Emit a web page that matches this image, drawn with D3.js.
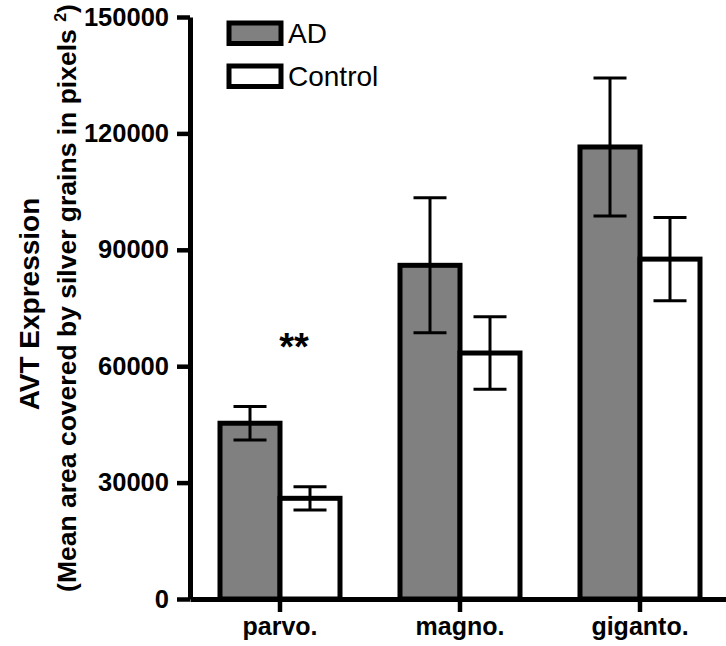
<!DOCTYPE html>
<html>
<head>
<meta charset="utf-8">
<script src="https://cdn.jsdelivr.net/npm/d3@7"></script>
<style>
  body { margin: 0; background: #fff; }
  svg { display: block; font-family: "Liberation Sans", Arial, sans-serif; }
</style>
</head>
<body>
<div id="chart"></div>
<script>
// data
const regions = ["parvo.", "magno.", "giganto."];
const groups = ["AD", "Control"];
const adMean = [45300, 86000, 116500];
const adErr = [4300, 17400, 17800];
const ctrlMean = [25950, 63400, 87600];
const ctrlErr = [3000, 9350, 10750];
const yTicks = [0, 30000, 60000, 90000, 120000, 150000];
const sigMarks = [{ region: "parvo.", text: "**" }];

const W = 726, H = 646;
const fills = { AD: "#808080", Control: "#ffffff" };

const svg = d3.select("#chart")
  .append("svg")
  .attr("width", W)
  .attr("height", H);

svg.append("rect").attr("width", W).attr("height", H).attr("fill", "#fff");

// scales
const x = d3.scaleBand()
  .domain(regions)
  .range([190, 730])
  .padding(0);

const x1 = d3.scaleBand()
  .domain(groups)
  .range([0, x.bandwidth()])
  .paddingInner(0)
  .paddingOuter(0.5);

const y = d3.scaleLinear()
  .domain([0, 150000])
  .range([599, 17]);

const rows = [];
regions.forEach((r, i) => {
  rows.push({ region: r, group: "AD", mean: adMean[i], err: adErr[i] });
  rows.push({ region: r, group: "Control", mean: ctrlMean[i], err: ctrlErr[i] });
});

// bars
svg.append("g")
  .selectAll("rect")
  .data(rows)
  .enter()
  .append("rect")
  .attr("x", d => x(d.region) + x1(d.group))
  .attr("y", d => y(d.mean))
  .attr("width", x1.bandwidth())
  .attr("height", d => y(0) - y(d.mean))
  .attr("fill", d => fills[d.group])
  .attr("stroke", "#000")
  .attr("stroke-width", 5);

// error bars
const capW = 33;
const eb = svg.append("g")
  .attr("stroke", "#000")
  .attr("stroke-width", 3)
  .selectAll("g")
  .data(rows)
  .enter()
  .append("g")
  .attr("transform", d => `translate(${x(d.region) + x1(d.group) + x1.bandwidth() / 2},0)`);

eb.append("line")
  .attr("y1", d => y(d.mean - d.err))
  .attr("y2", d => y(d.mean + d.err));
eb.append("line")
  .attr("x1", -capW / 2).attr("x2", capW / 2)
  .attr("y1", d => y(d.mean + d.err)).attr("y2", d => y(d.mean + d.err));
eb.append("line")
  .attr("x1", -capW / 2).attr("x2", capW / 2)
  .attr("y1", d => y(d.mean - d.err)).attr("y2", d => y(d.mean - d.err));

// significance stars
svg.selectAll("text.sig")
  .data(sigMarks)
  .enter()
  .append("text")
  .attr("class", "sig")
  .attr("x", d => x(d.region) + x.bandwidth() / 2 + 14)
  .attr("y", 360)
  .attr("text-anchor", "middle")
  .style("font-size", "38px")
  .style("font-weight", "bold")
  .text(d => d.text);

// x axis
const xAxis = svg.append("g")
  .attr("transform", `translate(0,${y(0)})`)
  .call(d3.axisBottom(x).tickSize(13).tickSizeOuter(0));
xAxis.select(".domain").attr("stroke-width", 5);
xAxis.selectAll(".tick line").attr("stroke-width", 4.5);
xAxis.selectAll("text")
  .attr("y", 36)
  .attr("dy", null)
  .attr("fill", "#000")
  .style("font-size", "25px")
  .style("font-weight", "bold")
  .style("font-family", "'Liberation Sans', Arial, sans-serif");

// y axis
const yAxis = svg.append("g")
  .attr("transform", "translate(190,0)")
  .call(d3.axisLeft(y).tickValues(yTicks).tickSize(13).tickSizeOuter(0).tickPadding(8).tickFormat(d3.format("d")));
yAxis.select(".domain").attr("stroke-width", 5);
yAxis.selectAll(".tick line").attr("stroke-width", 4.5);
yAxis.selectAll("text")
  .attr("fill", "#000")
  .style("font-size", "25.5px")
  .style("font-weight", "bold")
  .style("font-family", "'Liberation Sans', Arial, sans-serif");

// y titles
svg.append("text")
  .attr("transform", "translate(39,304) rotate(-90)")
  .attr("text-anchor", "middle")
  .style("font-size", "28px")
  .style("font-weight", "bold")
  .text("AVT Expression");

const sub = svg.append("text")
  .attr("transform", "translate(76,298) rotate(-90)")
  .attr("text-anchor", "middle")
  .style("font-size", "26.5px")
  .style("font-weight", "bold");
sub.append("tspan").text("(Mean area covered by silver grains in pixels ");
sub.append("tspan").attr("dy", -10).style("font-size", "16px").text("2");
sub.append("tspan").attr("dy", 10).text(")");

// legend
const legend = svg.append("g")
  .selectAll("g")
  .data(groups)
  .enter()
  .append("g")
  .attr("transform", (d, i) => `translate(229,${23 + i * 43})`);

legend.append("rect")
  .attr("width", 52)
  .attr("height", 20.5)
  .attr("fill", d => fills[d])
  .attr("stroke", "#000")
  .attr("stroke-width", 5);

legend.append("text")
  .attr("x", 59)
  .attr("y", 20)
  .style("font-size", "28px")
  .text(d => d);
</script>
</body>
</html>
